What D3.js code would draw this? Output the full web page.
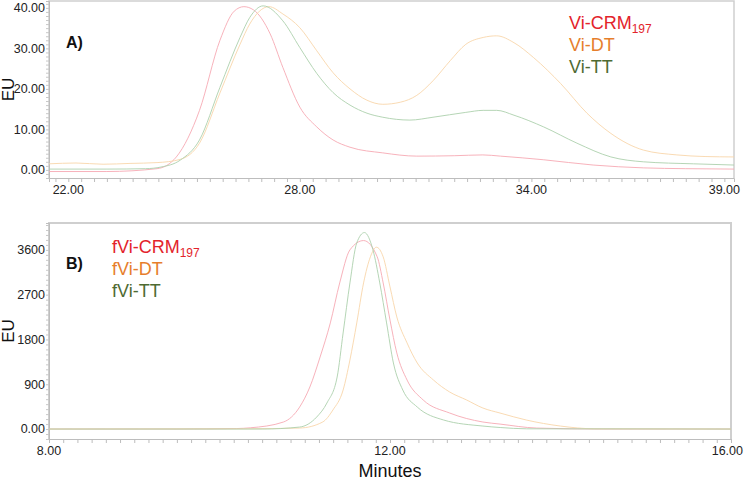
<!DOCTYPE html>
<html>
<head>
<meta charset="utf-8">
<script src="https://cdn.jsdelivr.net/npm/d3@7"></script>
<style>
body { margin: 0; background: #fff; }
svg text { font-family: Arial, "Liberation Sans", sans-serif; }
</style>
</head>
<body>
<div id="chart"></div>
<script>
// panel A: minutes and EU
var tA_crm = [21.5, 23, 24.3, 24.8, 25.4, 25.93, 26.3, 26.55, 26.8, 27.23, 27.56, 28.0, 28.44, 28.86, 29.3, 30.15, 31.03, 32.0, 32.74, 33.2, 34.32, 35.6, 36.9, 38.0, 39.25],
    vA_crm = [-0.4, -0.4, 0.3, 3.2, 14.7, 32, 39.2, 40.3, 39.5, 33.6, 25.3, 15.5, 10.6, 7.4, 5.6, 4.2, 3.4, 3.5, 3.7, 3.4, 2.5, 1.2, 0.5, 0.3, 0.2];
var tA_dt = [21.5, 22.2, 22.9, 23.6, 24.3, 24.9, 25.4, 25.93, 26.45, 26.7, 27.2, 27.56, 28.0, 28.44, 28.86, 29.3, 29.74, 30.15, 30.6, 31.03, 31.45, 31.9, 32.3, 32.75, 33.1, 33.55, 34.06, 34.76, 35.44, 36.06, 36.9, 37.77, 38.5, 39.25],
    vA_dt = [1.5, 1.7, 1.4, 1.6, 1.8, 2.6, 6.6, 19, 31, 36, 40.3, 38.5, 35.1, 29.4, 24, 20, 17.2, 16.2, 16.7, 18.4, 22, 27, 31, 32.7, 33.1, 31.4, 27.7, 21.3, 14, 9, 4.9, 3.7, 3.3, 3.2];
var tA_tt = [21.5, 23, 24.0, 24.4, 24.9, 25.4, 25.93, 26.45, 26.7, 27.05, 27.56, 28.0, 28.44, 28.86, 29.3, 29.74, 30.15, 30.85, 31.45, 32.3, 32.75, 33.1, 33.55, 34.32, 35.18, 36.06, 36.9, 38.2, 39.25],
    vA_tt = [0.2, 0.2, 0.3, 0.7, 2.4, 7.4, 20.4, 32.7, 37.6, 40.5, 36.8, 30.2, 23.8, 19.1, 16, 14, 13, 12.3, 13, 14.2, 14.7, 14.7, 13.5, 10.6, 6.6, 3.2, 2.0, 1.5, 1.2];

// panel B
var tB_crm = [8, 9.5, 10.2, 10.36, 10.75, 10.94, 11.06, 11.18, 11.3, 11.41, 11.53, 11.69, 11.85, 11.92, 12.0, 12.08, 12.2, 12.39, 12.7, 13.09, 13.29, 13.72, 14.5, 16],
    vB_crm = [0, 0, 10, 25, 141, 442, 845, 1448, 2132, 2936, 3600, 3787, 3460, 2936, 2190, 1528, 985, 583, 322, 141, 100, 20, 0, 0];
var tB_dt = [8, 10.3, 10.94, 11.21, 11.33, 11.45, 11.53, 11.61, 11.69, 11.77, 11.84, 11.92, 12.0, 12.08, 12.2, 12.32, 12.51, 12.7, 12.9, 13.09, 13.29, 13.6, 14.0, 14.4, 16],
    vB_dt = [0, 5, 20, 141, 382, 784, 1388, 2132, 2936, 3460, 3654, 3460, 2856, 2252, 1730, 1327, 985, 744, 583, 422, 322, 181, 60, 5, 0];
var tB_tt = [8, 10.5, 10.94, 11.14, 11.26, 11.38, 11.45, 11.53, 11.61, 11.7, 11.8, 11.88, 11.96, 12.04, 12.15, 12.32, 12.63, 13.09, 13.3, 13.6, 16],
    vB_tt = [0, 0, 40, 241, 523, 1046, 1930, 2936, 3740, 3948, 3600, 2936, 2132, 1327, 784, 442, 181, 60, 30, 5, 0];

var xTicksA = [22, 28, 34, 39], yTicksA = [0, 10, 20, 30, 40];
var xTicksB = [8, 12, 16], yTicksB = [0, 900, 1800, 2700, 3600];
var yLabelsB = ["0.00", "900", "1800", "2700", "3600"];

var namesA = ["Vi-CRM", "Vi-DT", "Vi-TT"], namesB = ["fVi-CRM", "fVi-DT", "fVi-TT"];
var lineColors = ["#f6a9b3", "#f8d6aa", "#add0ad"];
var textColors = ["#e3232b", "#e67e2c", "#4e6a32"];

var W = 744, H = 486;
var svg = d3.select("#chart").append("svg").attr("width", W).attr("height", H);

function zip(t, v) { return t.map(function(d, i) { return [d, v[i]]; }); }

function panel(o) {
  var x = d3.scaleLinear().domain(o.xd).range([o.left, o.right]);
  var y = d3.scaleLinear().domain(o.yd).range([o.bottom, o.top]);
  var g = svg.append("g");

  // frame
  g.append("path")
    .attr("d", "M" + o.left + "," + o.bottom + "V" + o.top + "H" + o.right + "V" + o.bottom)
    .attr("fill", "none").attr("stroke", "#cfcfcf").attr("stroke-width", o.frameW);

  // x axis with minor ticks
  var xa = g.append("g").attr("transform", "translate(0," + o.bottom + ")")
    .call(d3.axisBottom(x).tickValues(o.xMinor).tickSize(4).tickFormat(""));
  xa.select(".domain").attr("stroke", "#bdbdbd");
  xa.selectAll(".tick line").attr("stroke", "#bdbdbd");
  var nx = o.xTicks.length;
  g.selectAll(".xl").data(o.xTicks).enter().append("text")
    .attr("x", function(d, i) { return Math.min(x(d) + (i === nx - 1 ? 0 : 0), 744); })
    .attr("y", o.bottom + 16)
    .attr("text-anchor", function(d) { return x(d) + 17 > 744 ? "end" : "middle"; })
    .attr("dx", function(d) { return x(d) + 17 > 744 ? 744 - x(d) - 1 : 0; })
    .attr("font-size", 12.5).attr("fill", "#222")
    .text(function(d) { return d3.format(".2f")(d); });

  // y axis with minor ticks
  var ya = g.append("g").attr("transform", "translate(" + o.left + ",0)")
    .call(d3.axisLeft(y).tickValues(o.yMinor).tickSize(3).tickFormat(""));
  ya.select(".domain").attr("stroke", "#bdbdbd");
  ya.selectAll(".tick line").attr("stroke", "#c8c8c8");
  g.selectAll(".yl").data(o.yTicks).enter().append("text")
    .attr("x", o.left - 4).attr("y", function(d) { return y(d); }).attr("dy", "0.35em")
    .attr("text-anchor", "end").attr("font-size", 12.5).attr("fill", "#222")
    .text(function(d, i) { return o.yLabels[i]; });

  g.append("text").attr("transform", "translate(14," + ((o.top + o.bottom) / 2) + ") rotate(-90)")
    .attr("text-anchor", "middle").attr("font-size", 17).attr("fill", "#111").text("EU");

  var line = d3.line().x(function(d) { return x(d[0]); }).y(function(d) { return y(d[1]); })
    .curve(d3.curveMonotoneX);
  o.series.forEach(function(s, i) {
    g.append("path").datum(s).attr("d", line)
      .attr("fill", "none").attr("stroke", lineColors[i]).attr("stroke-width", 0.9);
  });

  g.append("text").attr("x", 66).attr("y", o.tagY).attr("font-size", 16).attr("font-weight", "bold")
    .attr("fill", "#111").text(o.tag);

  o.names.forEach(function(n, i) {
    var t = g.append("text").attr("x", o.legX).attr("y", o.legY + i * 22)
      .attr("font-size", 18).attr("fill", textColors[i]).text(n);
    if (i === 0) t.append("tspan").attr("font-size", 12).attr("dy", 4).text("197");
  });
}

panel({
  xd: [21.5, 39.25], yd: [-2, 41.7], left: 49, right: 734, top: 1, bottom: 178, frameW: 1.5,
  xTicks: xTicksA, yTicks: yTicksA, yLabels: yTicksA.map(d3.format(".2f")),
  xMinor: d3.range(21.667, 39.2, 1 / 3), yMinor: d3.range(-2, 41.5, 1),
  series: [zip(tA_crm, vA_crm), zip(tA_dt, vA_dt), zip(tA_tt, vA_tt)],
  names: namesA, legX: 569, legY: 29, tag: "A)", tagY: 48
});

panel({
  xd: [8, 16], yd: [-200, 4140], left: 49, right: 731, top: 223, bottom: 439, frameW: 2,
  xTicks: xTicksB, yTicks: yTicksB, yLabels: yLabelsB,
  xMinor: d3.range(8, 16.01, 1 / 6), yMinor: d3.range(-200, 4140, 100),
  series: [zip(tB_crm, vB_crm), zip(tB_dt, vB_dt), zip(tB_tt, vB_tt)],
  names: namesB, legX: 112, legY: 253, tag: "B)", tagY: 269
});

svg.append("text").attr("x", 390).attr("y", 477).attr("text-anchor", "middle")
  .attr("font-size", 18).attr("fill", "#111").text("Minutes");
</script>
</body>
</html>
